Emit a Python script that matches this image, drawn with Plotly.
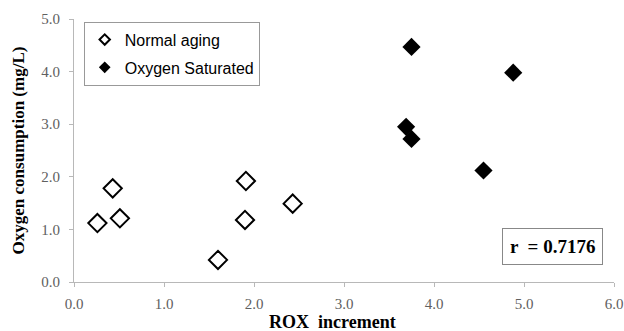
import plotly.graph_objects as go

normal_x = [0.26, 0.43, 0.51, 1.60, 1.90, 1.91, 2.43]
normal_y = [1.12, 1.78, 1.21, 0.42, 1.18, 1.92, 1.49]
sat_x = [3.75, 4.88, 3.69, 3.75, 4.55]
sat_y = [4.47, 3.98, 2.95, 2.72, 2.12]
x_ticks = [0, 1, 2, 3, 4, 5, 6]
y_ticks = [0, 1, 2, 3, 4, 5]

fig = go.Figure()
fig.add_trace(go.Scatter(
    x=normal_x, y=normal_y, mode="markers", name="Normal aging", showlegend=False,
    marker=dict(symbol="diamond-open", size=14, color="black", line=dict(width=2, color="black"))))
fig.add_trace(go.Scatter(
    x=sat_x, y=sat_y, mode="markers", name="Oxygen Saturated", showlegend=False,
    marker=dict(symbol="diamond", size=14, color="black")))
# legend entries with small markers like the reference
fig.add_trace(go.Scatter(
    x=[None], y=[None], mode="markers", name="Normal aging", legendgroup="a",
    marker=dict(symbol="diamond-open", size=8, color="black", line=dict(width=2, color="black"))))
fig.add_trace(go.Scatter(
    x=[None], y=[None], mode="markers", name="Oxygen Saturated", legendgroup="b",
    marker=dict(symbol="diamond", size=9, color="black")))

serif = "Liberation Serif, Times New Roman, serif"
axis_common = dict(showgrid=False, zeroline=False, showline=True, linecolor="#b8b8b8", linewidth=1,
                   ticks="outside", ticklen=4, tickcolor="#b8b8b8", automargin=False,
                   tickfont=dict(family=serif, size=15, color="#606060"), tickformat=".1f")
fig.update_xaxes(range=[0, 6], tickvals=x_ticks, ticklabelstandoff=4, **axis_common)
fig.update_yaxes(range=[0, 5], tickvals=y_ticks, ticklabelstandoff=6, **axis_common,
                 title=dict(text="<b>Oxygen consumption (mg/L)</b>", font=dict(family=serif, size=17, color="black"), standoff=12))

fig.add_annotation(xref="paper", yref="paper", x=0.478, y=-0.153, xanchor="center", yanchor="middle",
                   text="<b>ROX&nbsp; increment</b>", showarrow=False,
                   font=dict(family=serif, size=18, color="black"))

fig.add_annotation(xref="paper", yref="paper", x=0.98, y=0.135, xanchor="right", yanchor="middle",
                   text="<b>r  = 0.7176</b>", showarrow=False,
                   font=dict(family=serif, size=19, color="black"),
                   bordercolor="#888888", borderwidth=1, borderpad=7, bgcolor="white")

fig.update_layout(
    width=624, height=331, plot_bgcolor="white", paper_bgcolor="white",
    margin=dict(l=74, r=10, t=19, b=49),
    legend=dict(x=0.018, y=0.99, xanchor="left", yanchor="top", bordercolor="#999999", borderwidth=1,
                font=dict(family="Liberation Sans, Arial, sans-serif", size=16, color="black"),
                tracegroupgap=4, bgcolor="white"),
)
fig.write_html("out.html", config={"displayModeBar": False},
               post_script="document.body.style.margin='0';document.body.style.overflow='hidden';")
